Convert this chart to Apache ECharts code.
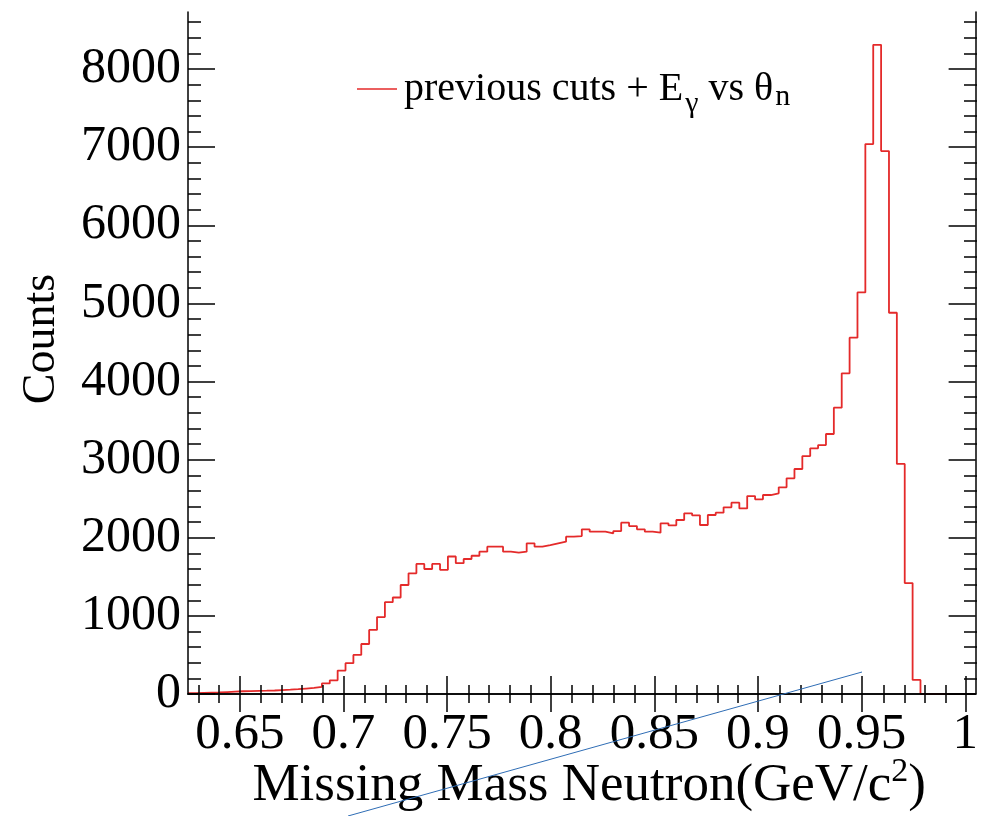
<!DOCTYPE html>
<html>
<head>
<meta charset="utf-8">
<script src="https://cdn.jsdelivr.net/npm/echarts@6/dist/echarts.min.js"></script>
<style>
html,body{margin:0;padding:0;background:#fff;}
#chart{width:981px;height:816px;}
</style>
</head>
<body>
<div id="chart"></div>
<script>
// Histogram binning (100 bins from 0.625 to 1.005)
const binLow = 0.625;
const binWidth = 0.0038;
const counts = [
  12, 15, 18, 20, 25, 30, 35, 38, 40, 42,
  45, 50, 55, 62, 70, 78, 90, 135, 175, 300,
  395, 500, 640, 820, 985, 1175, 1235, 1395, 1545, 1665,
  1600, 1665, 1590, 1760, 1675, 1728, 1770, 1822, 1886, 1886,
  1822, 1810, 1822, 1929, 1886, 1907, 1929, 1950, 2014, 2022,
  2108, 2078, 2078, 2057, 2086, 2193, 2150, 2108, 2078, 2065,
  2185, 2159, 2227, 2313, 2287, 2163, 2291, 2321, 2389, 2449,
  2376, 2534, 2492, 2547, 2569, 2645, 2761, 2880, 3046, 3145,
  3187, 3328, 3665, 4105, 4561, 5140, 7040, 8310, 6950, 4880,
  2945, 1420, 180, 0, 0, 0, 0, 0, 0, 0
];
const xRange = [0.625, 1.005];
const yRange = [0, 8730];
const xMajorTicks = [0.65, 0.7, 0.75, 0.8, 0.85, 0.9, 0.95, 1.0];
const yMajorTicks = [0, 1000, 2000, 3000, 4000, 5000, 6000, 7000, 8000];
const seriesName = 'previous cuts + E_gamma vs theta_n';

const xMinorTicks = [];
for (let i = 63; i <= 100; i++) { if (i % 5 !== 0) xMinorTicks.push(i / 100); }
const yMinorTicks = [];
for (let v = 200; v < 8730; v += 200) { if (v % 1000 !== 0) yMinorTicks.push(v); }

const stepData = [];
counts.forEach((c, k) => {
  stepData.push([binLow + k * binWidth, c]);
  stepData.push([binLow + (k + 1) * binWidth, c]);
});

const FONT = '"Liberation Serif", "DejaVu Serif", serif';
const gridRect = { left: 188, right: 4, top: 12, bottom: 122 };

function xAxisDef(grid, pos, ticks, len, labels) {
  return {
    type: 'value', gridIndex: grid, position: pos, min: xRange[0], max: xRange[1],
    z: 5,
    axisLine: { show: grid === 0, lineStyle: { color: '#000', width: 1.5 } },
    axisTick: { show: true, inside: true, length: len, customValues: ticks, lineStyle: { color: '#000', width: 1.5 } },
    axisLabel: labels ? {
      show: true, customValues: ticks, margin: 15, color: '#000', fontFamily: FONT, fontSize: 51,
      formatter: v => String(+(+v).toFixed(2))
    } : { show: false },
    splitLine: { show: false }
  };
}
function yAxisDef(grid, pos, ticks, len, labels) {
  return {
    type: 'value', gridIndex: grid, position: pos, min: yRange[0], max: yRange[1],
    z: 5,
    axisLine: { show: grid === 0, lineStyle: { color: '#000', width: 1.5 } },
    axisTick: { show: true, inside: true, length: len, customValues: ticks, lineStyle: { color: '#000', width: 1.5 } },
    axisLabel: labels ? {
      show: true, customValues: ticks, margin: 7, color: '#000', fontFamily: FONT, fontSize: 50,
      formatter: v => String(v)
    } : { show: false },
    splitLine: { show: false }
  };
}

const chart = echarts.init(document.getElementById('chart'), null, { renderer: 'canvas' });
chart.setOption({
  animation: false,
  backgroundColor: '#fff',
  grid: [Object.assign({}, gridRect), Object.assign({}, gridRect)],
  xAxis: [
    xAxisDef(0, 'bottom', xMajorTicks, 18, true),
    xAxisDef(0, 'top', xMajorTicks, 18, false),
    xAxisDef(1, 'bottom', xMinorTicks, 9, false),
    xAxisDef(1, 'top', xMinorTicks, 9, false)
  ],
  yAxis: [
    yAxisDef(0, 'left', yMajorTicks, 27, true),
    yAxisDef(0, 'right', yMajorTicks, 27, false),
    yAxisDef(1, 'left', yMinorTicks, 13, false),
    yAxisDef(1, 'right', yMinorTicks, 13, false)
  ],
  legend: {
    left: 352, top: 64,
    icon: 'rect', itemWidth: 40, itemHeight: 1.5, itemGap: 0,
    data: [seriesName],
    formatter: () => 'previous cuts + E{sub|γ} vs θ{sub2|n}',
    textStyle: {
      color: '#000', fontFamily: FONT, fontSize: 40, padding: [0, 0, 0, 2],
      rich: {
        sub: { fontFamily: FONT, fontSize: 30, color: '#000', padding: [30, 0, 0, 2] },
        sub2: { fontFamily: FONT, fontSize: 30, color: '#000', padding: [16, 0, 0, 2] }
      }
    }
  },
  series: [{
    name: seriesName,
    type: 'line',
    xAxisIndex: 0, yAxisIndex: 0,
    data: stepData,
    symbol: 'none',
    z: 2,
    lineStyle: { color: '#e42a2a', width: 1.8 },
    itemStyle: { color: '#e42a2a' }
  }],
  graphic: [
    {
      type: 'text', x: 926, y: 786,
      style: {
        text: 'Missing Mass Neutron(GeV/c{sup|2})',
        fontFamily: FONT, fontSize: 53, fill: '#000',
        align: 'right', verticalAlign: 'middle',
        rich: { sup: { fontFamily: FONT, fontSize: 34, fill: '#000', padding: [0, 0, 28, 0] } }
      }
    },
    {
      type: 'text', x: 42, y: 339, rotation: Math.PI / 2,
      style: {
        text: 'Counts', fontFamily: FONT, fontSize: 46, fill: '#000',
        align: 'center', verticalAlign: 'middle'
      }
    },
    {
      type: 'line', z: 100,
      shape: { x1: 348, y1: 816, x2: 862, y2: 672 },
      style: { stroke: '#2f6db5', lineWidth: 1 }
    }
  ]
});
</script>
</body>
</html>
